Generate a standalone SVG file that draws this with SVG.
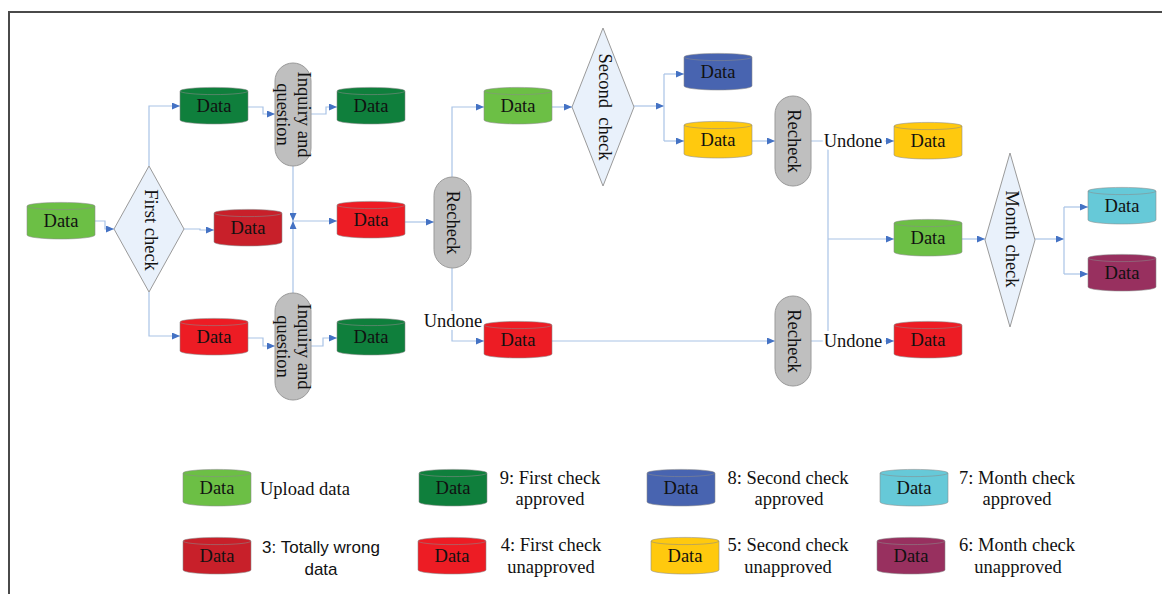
<svg xmlns="http://www.w3.org/2000/svg" width="1162" height="594" viewBox="0 0 1162 594">
<style>
  .t{font-family:"Liberation Serif","Times New Roman",serif;font-size:18.5px;fill:#111}
  .m{text-anchor:middle}
  .s{font-family:"Liberation Sans",Arial,sans-serif;font-size:17px;fill:#111;text-anchor:middle}
  .cyl{stroke:#8a8a8a;stroke-width:0.8;stroke-opacity:0.7}
  .dia{fill:#e9f1fb;stroke:#9a9a9a;stroke-width:1}
  .pill{fill:#bfbfbf;stroke:#9a9a9a;stroke-width:1}
  .c{fill:none;stroke:#a9c3e6;stroke-width:1.2}
  .ar{marker-end:url(#arr)}
  .halo{stroke:#fff;stroke-width:6;paint-order:stroke;stroke-linejoin:round}
</style>
<defs>
  <marker id="arr" markerWidth="8" markerHeight="7" refX="8" refY="3.5" orient="auto" markerUnits="userSpaceOnUse">
    <path d="M0,0 L8,3.5 L0,7 Z" fill="#4472c4"/>
  </marker>
  <!-- data store cylinder, 68 x 37 -->
  <g id="cyl">
    <path d="M0,4 A34,3.6 0 0 1 68,4 V33 A34,4 0 0 1 0,33 Z"/>
    <path d="M0,4 A34,3.6 0 0 0 68,4" fill="none"/>
  </g>
</defs>

<!-- frame -->
<path d="M9,594 V12 H1162" fill="none" stroke="#4a4a4a" stroke-width="2"/>

<!-- connectors -->
<g id="connectors">
  <path class="c ar" d="M94,221 H105 V229 H114"/>
  <path class="c ar" d="M149,166 V106 H180"/>
  <path class="c ar" d="M149,292 V336 H180"/>
  <path class="c ar" d="M184,229 H200 V230 H214"/>
  <path class="c ar" d="M248,107 H263 V114 H275"/>
  <path class="c ar" d="M311,114 H326 V107 H337"/>
  <path class="c ar" d="M248,338 H263 V346 H275"/>
  <path class="c ar" d="M311,346 H323 V338 H337"/>
  <path class="c ar" d="M293,166 V221"/>
  <path class="c ar" d="M293,293 V221"/>
  <path class="c ar" d="M293,221 H337"/>
  <path class="c ar" d="M404,222 H434"/>
  <path class="c ar" d="M452,177 V107 H484"/>
  <path class="c ar" d="M452,268 V341 H484"/>
  <path class="c ar" d="M551,107 H572"/>
  <path class="c ar" d="M634,106 H664"/>
  <path class="c" d="M664,74 V141"/>
  <path class="c ar" d="M664,74 H684"/>
  <path class="c ar" d="M664,141 H684"/>
  <path class="c ar" d="M751,141 H775"/>
  <path class="c ar" d="M551,341 H775"/>
  <path class="c ar" d="M811,141 H894"/>
  <path class="c" d="M828,141 V341"/>
  <path class="c ar" d="M828,239 H894"/>
  <path class="c ar" d="M811,341 H894"/>
  <path class="c ar" d="M962,239 H985"/>
  <path class="c ar" d="M1035,239 H1064"/>
  <path class="c" d="M1064,207 V274"/>
  <path class="c ar" d="M1064,207 H1088"/>
  <path class="c ar" d="M1064,274 H1088"/>
  <text class="t m halo" x="453" y="327">Undone</text>
  <text class="t m halo" x="853" y="147">Undone</text>
  <text class="t m halo" x="853" y="347">Undone</text>
</g>

<!-- nodes -->
<g id="upload">
  <use href="#cyl" x="27" y="202" fill="#6cbf45" class="cyl"/>
  <text class="t m" x="61" y="227">Data</text>
</g>
<g id="first-check">
  <polygon class="dia" points="114,229 149,166 184,229 149,292"/>
  <text class="t m" transform="translate(151,230) rotate(90)" y="6">First check</text>
</g>
<g id="first-approved-a">
  <use href="#cyl" x="180" y="87" fill="#0f7f3c" class="cyl"/>
  <text class="t m" x="214" y="112">Data</text>
</g>
<g id="totally-wrong">
  <use href="#cyl" x="214" y="209" fill="#c8202a" class="cyl"/>
  <text class="t m" x="248" y="234">Data</text>
</g>
<g id="first-unapproved">
  <use href="#cyl" x="180" y="318" fill="#ed1c24" class="cyl"/>
  <text class="t m" x="214" y="343">Data</text>
</g>
<g id="inquiry-a">
  <rect class="pill" x="275" y="63" width="36" height="103" rx="18"/>
  <text class="t m" transform="translate(293,114.5) rotate(90)"><tspan x="0" y="-5">Inquiry and</tspan><tspan x="0" y="16">question</tspan></text>
</g>
<g id="inquiry-b">
  <rect class="pill" x="275" y="293" width="36" height="107" rx="18"/>
  <text class="t m" transform="translate(293,346.5) rotate(90)"><tspan x="0" y="-5">Inquiry and</tspan><tspan x="0" y="16">question</tspan></text>
</g>
<g id="approved-a">
  <use href="#cyl" x="337" y="87" fill="#0f7f3c" class="cyl"/>
  <text class="t m" x="371" y="112">Data</text>
</g>
<g id="unapproved-mid">
  <use href="#cyl" x="337" y="201" fill="#ed1c24" class="cyl"/>
  <text class="t m" x="371" y="226">Data</text>
</g>
<g id="approved-b">
  <use href="#cyl" x="337" y="318" fill="#0f7f3c" class="cyl"/>
  <text class="t m" x="371" y="343">Data</text>
</g>
<g id="recheck-1">
  <rect class="pill" x="434" y="177" width="37" height="91" rx="18.5"/>
  <text class="t m" transform="translate(452.5,222.5) rotate(90)" y="6">Recheck</text>
</g>
<g id="recheck-passed">
  <use href="#cyl" x="484" y="87" fill="#6cbf45" class="cyl"/>
  <text class="t m" x="518" y="112">Data</text>
</g>
<g id="recheck-undone">
  <use href="#cyl" x="484" y="321" fill="#ed1c24" class="cyl"/>
  <text class="t m" x="518" y="346">Data</text>
</g>
<g id="second-check">
  <polygon class="dia" points="572,107 603,28 634,107 603,186"/>
  <text class="t m" transform="translate(605,107) rotate(90)" y="6" style="white-space:pre">Second  check</text>
</g>
<g id="second-approved">
  <use href="#cyl" x="684" y="53" fill="#4864b0" class="cyl"/>
  <text class="t m" x="718" y="78">Data</text>
</g>
<g id="second-unapproved">
  <use href="#cyl" x="684" y="121" fill="#ffc90e" class="cyl"/>
  <text class="t m" x="718" y="146">Data</text>
</g>
<g id="recheck-2">
  <rect class="pill" x="775" y="96" width="36" height="90" rx="18"/>
  <text class="t m" transform="translate(794,141) rotate(90)" y="6">Recheck</text>
</g>
<g id="recheck-3">
  <rect class="pill" x="775" y="296" width="36" height="90" rx="18"/>
  <text class="t m" transform="translate(794,341) rotate(90)" y="6">Recheck</text>
</g>
<g id="second-undone">
  <use href="#cyl" x="894" y="122" fill="#ffc90e" class="cyl"/>
  <text class="t m" x="928" y="147">Data</text>
</g>
<g id="month-input">
  <use href="#cyl" x="894" y="219" fill="#6cbf45" class="cyl"/>
  <text class="t m" x="928" y="244">Data</text>
</g>
<g id="first-undone">
  <use href="#cyl" x="894" y="321" fill="#ed1c24" class="cyl"/>
  <text class="t m" x="928" y="346">Data</text>
</g>
<g id="month-check">
  <polygon class="dia" points="985,240 1010,153 1035,240 1010,327"/>
  <text class="t m" transform="translate(1012,239) rotate(90)" y="6">Month check</text>
</g>
<g id="month-approved">
  <use href="#cyl" x="1088" y="187" fill="#66c9d8" class="cyl"/>
  <text class="t m" x="1122" y="212">Data</text>
</g>
<g id="month-unapproved">
  <use href="#cyl" x="1088" y="254" fill="#98305f" class="cyl"/>
  <text class="t m" x="1122" y="279">Data</text>
</g>

<!-- legend -->
<g id="legend">
  <use href="#cyl" x="183" y="469" fill="#6cbf45" class="cyl"/>
  <text class="t m" x="217" y="494">Data</text>
  <text class="t" x="260" y="495">Upload data</text>

  <use href="#cyl" x="419" y="469" fill="#0f7f3c" class="cyl"/>
  <text class="t m" x="453" y="494">Data</text>
  <text class="t m" x="550" y="484">9: First check</text>
  <text class="t m" x="550" y="505">approved</text>

  <use href="#cyl" x="647" y="469" fill="#4864b0" class="cyl"/>
  <text class="t m" x="681" y="494">Data</text>
  <text class="t m" x="788" y="484">8: Second check</text>
  <text class="t m" x="789" y="505">approved</text>

  <use href="#cyl" x="880" y="469" fill="#66c9d8" class="cyl"/>
  <text class="t m" x="914" y="494">Data</text>
  <text class="t m" x="1017" y="484">7: Month check</text>
  <text class="t m" x="1017" y="505">approved</text>

  <use href="#cyl" x="183" y="537" fill="#c8202a" class="cyl"/>
  <text class="t m" x="217" y="562">Data</text>
  <text class="s" x="321" y="553">3: Totally wrong</text>
  <text class="s" x="321" y="575">data</text>

  <use href="#cyl" x="418" y="537" fill="#ed1c24" class="cyl"/>
  <text class="t m" x="452" y="562">Data</text>
  <text class="t m" x="551" y="551">4: First check</text>
  <text class="t m" x="551" y="573">unapproved</text>

  <use href="#cyl" x="651" y="537" fill="#ffc90e" class="cyl"/>
  <text class="t m" x="685" y="562">Data</text>
  <text class="t m" x="788" y="551">5: Second check</text>
  <text class="t m" x="788" y="573">unapproved</text>

  <use href="#cyl" x="877" y="537" fill="#98305f" class="cyl"/>
  <text class="t m" x="911" y="562">Data</text>
  <text class="t m" x="1017" y="551">6: Month check</text>
  <text class="t m" x="1018" y="573">unapproved</text>
</g>
</svg>
